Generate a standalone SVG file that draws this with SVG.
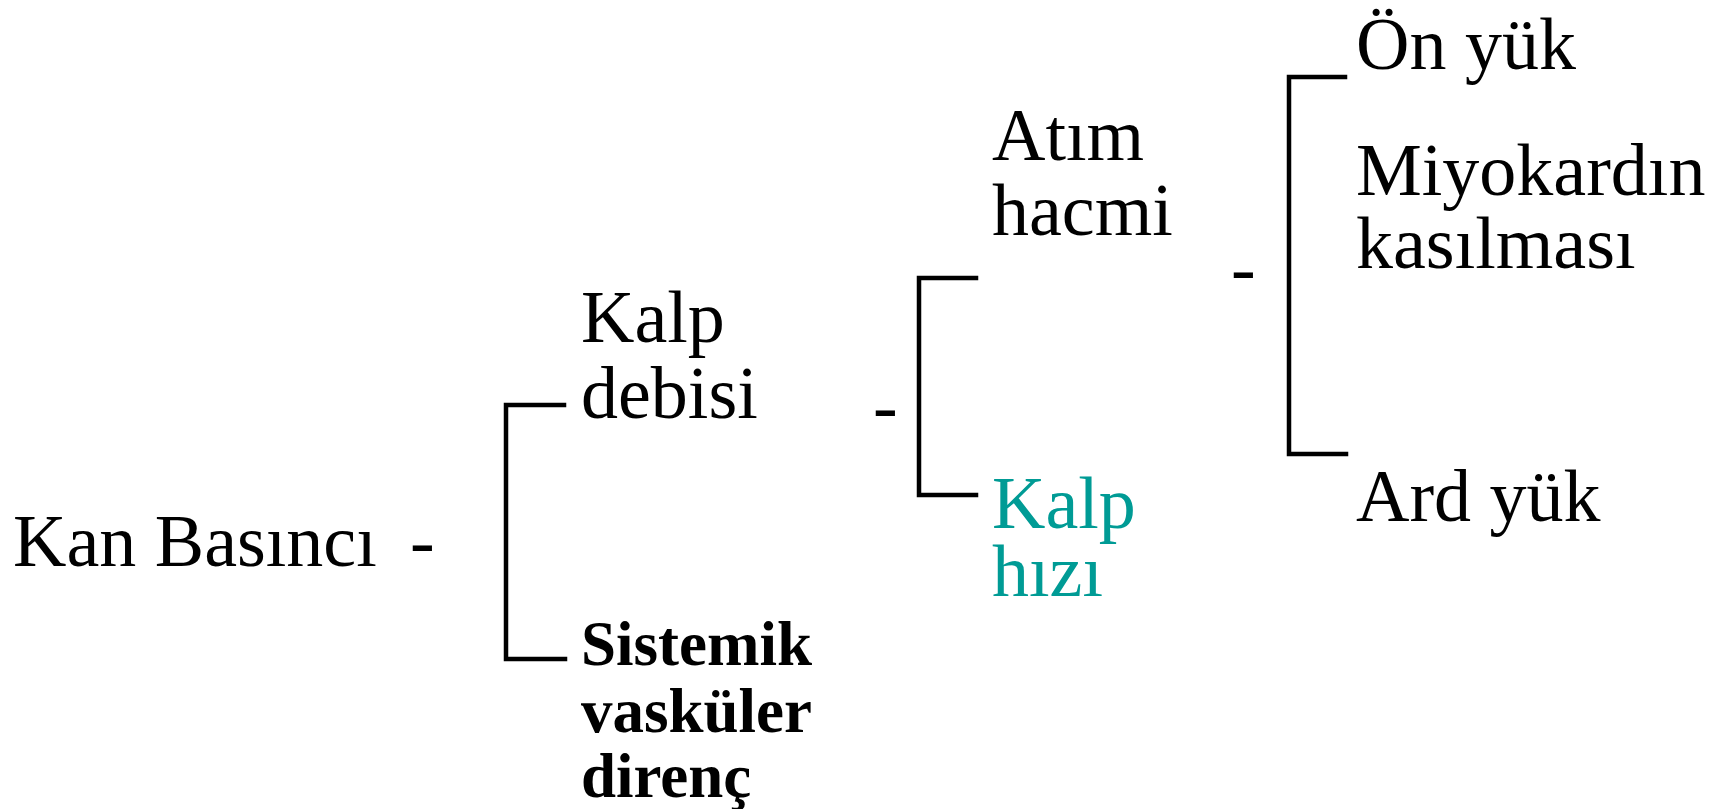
<svg xmlns="http://www.w3.org/2000/svg" width="1730" height="809" viewBox="0 0 1730 809">
  <style>
    text { font-family: "Liberation Serif", "Times New Roman", serif; font-size: 74px; fill: #000; }
    .bold { font-weight: bold; font-size: 63px; }
    .teal { fill: #009B95; }
    .bracket { fill: none; stroke: #000; stroke-width: 4.5; stroke-linecap: square; }
  </style>
  <rect width="1730" height="809" fill="#fff"/>

  <!-- bracket connectors with their leading dashes -->
  <g id="connectors">
    <path class="bracket" d="M564 405 H506 V659 H565"/>
    <path class="bracket" d="M976 278 H919 V495 H976"/>
    <path class="bracket" d="M1345 77 H1289 V454 H1346"/>
    <text x="410" y="566">-</text>
    <text x="873" y="431">-</text>
    <text x="1231" y="293">-</text>
  </g>

  <g id="kan-basinci">
    <text x="13" y="566">Kan Basıncı</text>
  </g>

  <g id="kalp-debisi">
    <text x="581" y="342">Kalp<tspan x="581" dy="76">debisi</tspan></text>
  </g>

  <g id="sistemik-vaskuler-direnc">
    <text class="bold" x="581" y="665">Sistemik<tspan x="581" dy="67">vasküler</tspan><tspan x="581" dy="65">direnç</tspan></text>
  </g>

  <g id="atim-hacmi">
    <text x="992" y="160">Atım<tspan x="992" dy="75">hacmi</tspan></text>
  </g>

  <g id="kalp-hizi">
    <text class="teal" x="992" y="528">Kalp<tspan x="992" dy="68">hızı</tspan></text>
  </g>

  <g id="on-yuk">
    <text x="1356" y="69">Ön yük</text>
  </g>

  <g id="miyokardin-kasilmasi">
    <text x="1356" y="195">Miyokardın<tspan x="1356" dy="73">kasılması</tspan></text>
  </g>

  <g id="ard-yuk">
    <text x="1356" y="521">Ard yük</text>
  </g>
</svg>
